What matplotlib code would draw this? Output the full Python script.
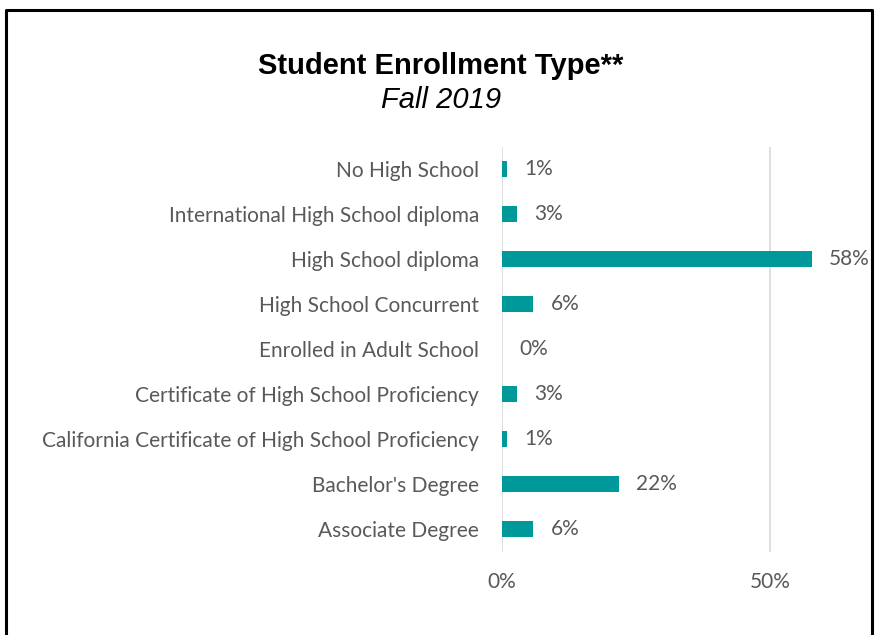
import matplotlib.pyplot as plt
from matplotlib.lines import Line2D

# Datos (porcentaje de estudiantes)
categorias = ['No High School',
              'International High School diploma',
              'High School diploma',
              'High School Concurrent',
              'Enrolled in Adult School',
              'Certificate of High School Proficiency',
              'California Certificate of High School Proficiency',
              "Bachelor's Degree",
              'Associate Degree']
valores = [0.9, 2.8, 57.8, 5.8, 0.0, 2.8, 0.9, 21.8, 5.8]
ticks = [0, 50]
tick_labels = ['0%', '50%']

W, H = 878, 635
fig = plt.figure(figsize=(W / 100, H / 100), dpi=100)

gris = '#595959'
verde = '#009999'
fs = 15

ax = fig.add_axes([502 / W, 1 - 551.5 / H, 321.6 / W, 405 / H])
pos = list(range(len(categorias)))
barras = ax.barh(pos, valores, height=0.36, color=verde, zorder=3)
ax.set_ylim(len(categorias) - 0.5, -0.5)
ax.set_xlim(0, 60)

etiquetas = [f'{round(v)}%' for v in valores]
ax.bar_label(barras, labels=etiquetas, padding=12.5, color=gris,
             fontsize=fs, family='Lato', clip_on=False)

ax.set_yticks(pos)
ax.set_yticklabels(categorias, fontsize=fs, family='Lato', color=gris)
ax.set_xticks(ticks)
ax.set_xticklabels(tick_labels, fontsize=fs, family='Lato', color=gris)
ax.tick_params(axis='y', length=0, pad=16.5)
ax.tick_params(axis='x', length=0, pad=15)

ax.grid(axis='x', color='#d9d9d9', linewidth=1.2, zorder=0)
for lado in ax.spines.values():
    lado.set_visible(False)

# Titulo
fig.text(441 / W, 1 - 66 / H, 'Student Enrollment Type**', ha='center',
         va='center', fontsize=21, fontweight='bold',
         family='Liberation Sans')
fig.text(441 / W, 1 - 100 / H, 'Fall 2019', ha='center', va='center',
         fontsize=21, style='italic', family='Liberation Sans')

# Marco negro (abierto por abajo)
x0, x1, y0 = 6 / W, 872 / W, 1 - 10 / H
fig.add_artist(Line2D([x0, x0, x1, x1], [0, y0, y0, 0], color='black',
                      linewidth=2.2, transform=fig.transFigure))

fig.savefig('out.png', dpi=100)
